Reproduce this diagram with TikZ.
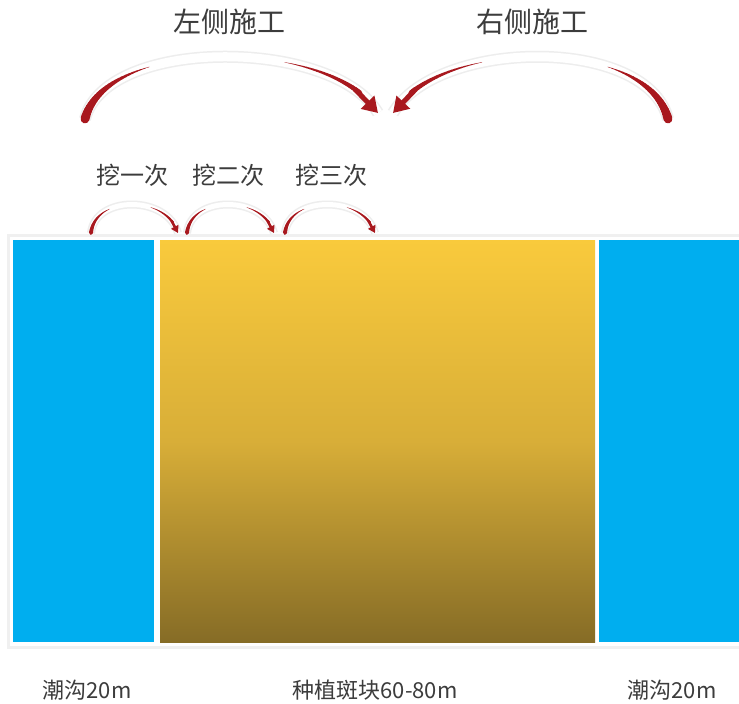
\documentclass[tikz,border=0pt]{standalone}
\usepackage{fontspec}
\newfontfamily\cjk{Noto Sans CJK SC}
\usetikzlibrary{arrows.meta}
\definecolor{tide}{RGB}{0,174,239}
\definecolor{arrred}{RGB}{168,24,30}
\definecolor{plotTop}{RGB}{249,202,60}
\definecolor{plotMid}{RGB}{216,174,56}
\definecolor{plotBot}{RGB}{134,108,38}
\definecolor{txt}{RGB}{60,60,60}
\newcommand\tapseg[8]{%
  \foreach \i in {0,...,23}{%
    \pgfmathsetmacro\ta{#5+(#6-#5)*\i/24}%
    \pgfmathsetmacro\tb{#5+(#6-#5)*(\i+1)/24}%
    \pgfmathsetmacro\ww{#7+(#8-#7)*(\i+0.5)/24}%
    \path (#1) .. controls (#2) and (#3) .. (#4) coordinate[pos=\ta] (sa) coordinate[pos=\tb] (sb);
    \draw[arrred, line width=\ww pt, line cap=round] (sa) -- (sb);
  }}
\newcommand\bigarrow[9]{% #1 P0 #2 C1 #3 C2 #4 P3 ; #5 tail w ; #6 head w ; #7 tip width ; #8 tip length ; #9 halo w
  \pgfmathsetmacro\halow{#9}%
  \pgfmathsetmacro\haloin{#9-3}%
  \draw[gray!14, line width=\halow pt] (#1) .. controls (#2) and (#3) .. (#4);
  \draw[white, line width=\haloin pt] (#1) .. controls (#2) and (#3) .. (#4);
  \tapseg{#1}{#2}{#3}{#4}{0}{0.3}{#5}{0.2}
  \tapseg{#1}{#2}{#3}{#4}{0.66}{0.9}{0.2}{#6}
  \path (#1) .. controls (#2) and (#3) .. (#4) coordinate[pos=0.88] (ha);
  \draw[arrred, line width=#6pt, -{Triangle[width=#7pt,length=#8pt]}] (ha) -- (#4);
}
\tikzset{
  lab/.style={font=\cjk\fontsize{28}{28}\selectfont, text=txt, inner sep=0pt},
  sublab/.style={font=\cjk\fontsize{24}{24}\selectfont, text=txt, inner sep=0pt},
  botlab/.style={font=\cjk\fontsize{22}{22}\selectfont, text=txt, inner sep=0pt},
  ditch/.style={fill=tide, draw=none},
}
\begin{document}
\begin{tikzpicture}[x=1pt,y=-1pt]
\useasboundingbox (0,0) rectangle (739,704);
\fill[white] (0,0) rectangle (739,704);

% halo of rectangles
\fill[gray!12] (7,234) rectangle (739,649);
\fill[white] (10,237) rectangle (739,646);

\path[ditch] (13,240) rectangle (154,642);
\node[inner sep=0pt] (leftditch) at (83.5,441) {};
\shade[top color=plotTop, bottom color=plotBot, middle color=plotMid] (160,240) rectangle (595,642);
\node[inner sep=0pt] (plot) at (377.5,441) {};
\path[ditch] (599,240) rectangle (739,642);
\node[inner sep=0pt] (rightditch) at (669,441) {};

% big arrows
\coordinate (LA0) at (85,119);
\coordinate (LA1) at (106,36);
\coordinate (LA2) at (334,38);
\coordinate (LA3) at (378,113);
\bigarrow{LA0}{LA1}{LA2}{LA3}{9}{5}{18}{15}{12}

\coordinate (RA0) at (668,119);
\coordinate (RA1) at (647,36);
\coordinate (RA2) at (438,38);
\coordinate (RA3) at (393,113);
\bigarrow{RA0}{RA1}{RA2}{RA3}{9}{5}{18}{15}{12}

% small arrows
\coordinate (S10) at (91,233);
\coordinate (S11) at (95,195);
\coordinate (S12) at (167,195);
\coordinate (S13) at (178,233);
\bigarrow{S10}{S11}{S12}{S13}{4}{2.6}{8}{7}{8}

\coordinate (S20) at (187,233);
\coordinate (S21) at (191,195);
\coordinate (S22) at (263,195);
\coordinate (S23) at (274,233);
\bigarrow{S20}{S21}{S22}{S23}{4}{2.6}{8}{7}{8}

\coordinate (S30) at (285,233);
\coordinate (S31) at (289,195);
\coordinate (S32) at (364,195);
\coordinate (S33) at (375,233);
\bigarrow{S30}{S31}{S32}{S33}{4}{2.6}{8}{7}{8}

% labels
\node[lab] (tl) at (229,22) {左侧施工};
\node[lab] (tr) at (532,22) {右侧施工};
\node[sublab] (d1) at (132,175) {挖一次};
\node[sublab] (d2) at (228,175) {挖二次};
\node[sublab] (d3) at (331,175) {挖三次};
\node[botlab] (b1) at (87,690) {潮沟20m};
\node[botlab] (b2) at (375,690) {种植斑块60-80m};
\node[botlab] (b3) at (672,690) {潮沟20m};
\end{tikzpicture}
\end{document}
